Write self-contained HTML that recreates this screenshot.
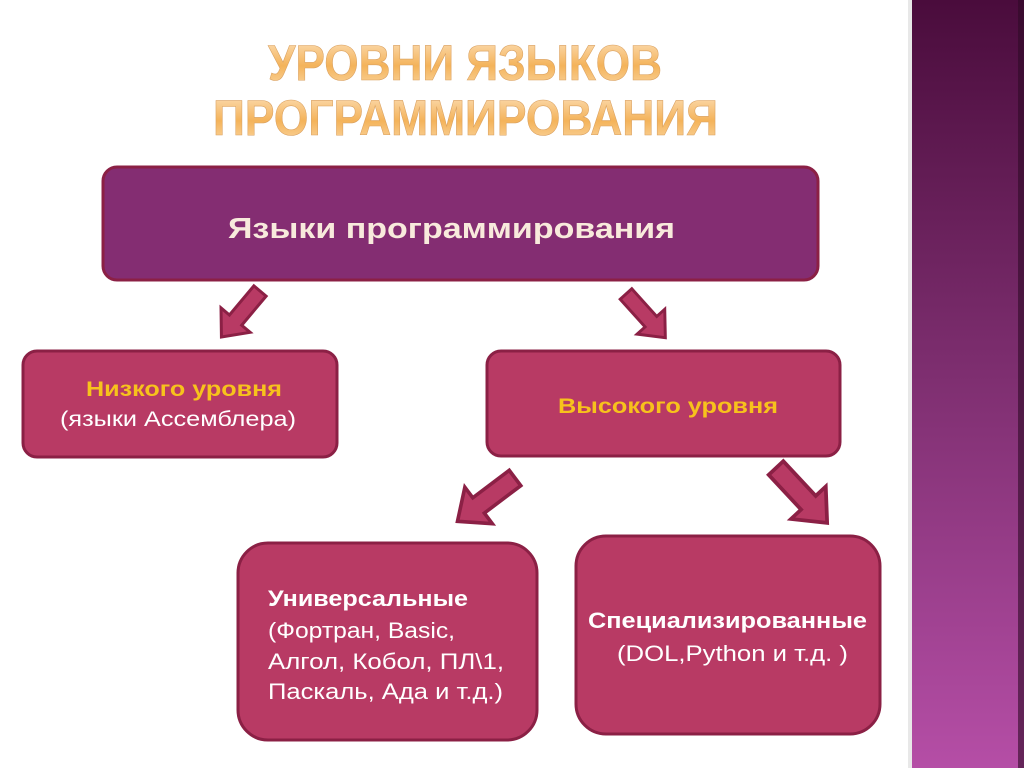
<!DOCTYPE html>
<html><head><meta charset="utf-8"><style>html,body{margin:0;padding:0;background:#fff;}svg{display:block}</style></head>
<body>
<svg width="1024" height="768" viewBox="0 0 1024 768" xmlns="http://www.w3.org/2000/svg" font-family="'Liberation Sans', sans-serif">
<defs>
<linearGradient id="side" x1="0" y1="0" x2="0" y2="1">
<stop offset="0" stop-color="#4a0c3c"/><stop offset="0.45" stop-color="#7a2c6c"/><stop offset="1" stop-color="#b54ea6"/>
</linearGradient>
<linearGradient id="ttl" x1="0" y1="0" x2="0" y2="1">
<stop offset="0" stop-color="#fde3c0"/><stop offset="0.55" stop-color="#f4b35a"/><stop offset="1" stop-color="#fbd9a8"/>
</linearGradient>
<g id="arr"><polygon points="0,-8 38,-8 38,-19 60,0 38,19 38,8 0,8" fill="#b83a64" stroke="#8b2045" stroke-width="3" stroke-linejoin="miter"/></g>
</defs>
<rect x="912" y="0" width="112" height="768" fill="url(#side)"/>
<rect x="1018" y="0" width="6" height="768" fill="#2e0a26" opacity="0.6"/>
<rect x="908" y="0" width="4" height="768" fill="#e8e8e8"/>

<g font-weight="bold" font-size="50" fill="url(#ttl)" stroke="#d9a060" stroke-width="0.6">
<text x="268" y="80" textLength="394" lengthAdjust="spacingAndGlyphs">УРОВНИ ЯЗЫКОВ</text>
<text x="213" y="135" textLength="505" lengthAdjust="spacingAndGlyphs">ПРОГРАММИРОВАНИЯ</text>
</g>

<rect x="103" y="167" width="715" height="113" rx="14" fill="#842d72" stroke="#8b2045" stroke-width="3"/>
<text x="228" y="238" font-size="29" font-weight="bold" fill="#f8eadc" textLength="447" lengthAdjust="spacingAndGlyphs">Языки программирования</text>

<g transform="translate(260,291) scale(1.0) rotate(130)"><use href="#arr"/></g>
<g transform="translate(626,294) scale(0.98) rotate(48)"><use href="#arr"/></g>
<g transform="translate(515,478) scale(1.2) rotate(143)"><use href="#arr"/></g>
<g transform="translate(776,468) scale(1.25) rotate(47)"><use href="#arr"/></g>

<rect x="23" y="351" width="314" height="106" rx="14" fill="#b83a64" stroke="#8b2045" stroke-width="3"/>
<text x="86" y="396" font-size="21" font-weight="bold" fill="#f7c21c" textLength="196" lengthAdjust="spacingAndGlyphs">Низкого уровня</text>
<text x="60" y="426" font-size="21" fill="#fff" textLength="236" lengthAdjust="spacingAndGlyphs">(языки Ассемблера)</text>

<rect x="487" y="351" width="353" height="105" rx="14" fill="#b83a64" stroke="#8b2045" stroke-width="3"/>
<text x="558" y="413" font-size="21" font-weight="bold" fill="#f7c21c" textLength="220" lengthAdjust="spacingAndGlyphs">Высокого уровня</text>

<rect x="238" y="543" width="299" height="197" rx="30" fill="#b83a64" stroke="#8b2045" stroke-width="3"/>
<g font-size="22" fill="#fff">
<text x="268" y="606" font-weight="bold" textLength="200" lengthAdjust="spacingAndGlyphs">Универсальные</text>
<text x="268" y="638" textLength="187" lengthAdjust="spacingAndGlyphs">(Фортран, Basic,</text>
<text x="268" y="669" textLength="236" lengthAdjust="spacingAndGlyphs">Алгол, Кобол, ПЛ\1,</text>
<text x="268" y="699" textLength="235" lengthAdjust="spacingAndGlyphs">Паскаль, Ада и т.д.)</text>
</g>

<rect x="576" y="536" width="304" height="198" rx="30" fill="#b83a64" stroke="#8b2045" stroke-width="3"/>
<g font-size="22" fill="#fff">
<text x="588" y="628" font-weight="bold" textLength="279" lengthAdjust="spacingAndGlyphs">Специализированные</text>
<text x="617" y="661" textLength="231" lengthAdjust="spacingAndGlyphs">(DOL,Python и т.д. )</text>
</g>
</svg>
</body></html>
